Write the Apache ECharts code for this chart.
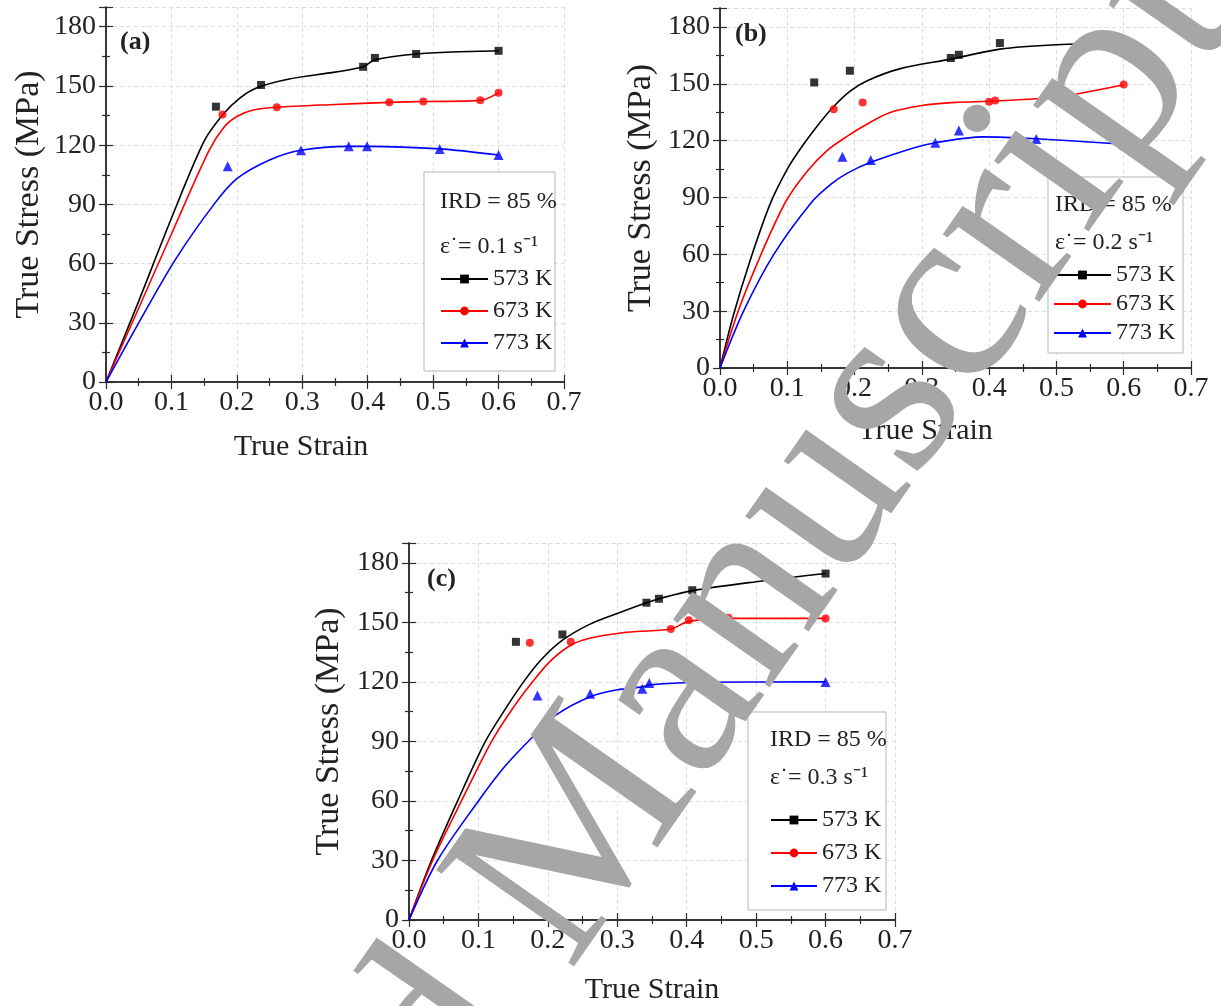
<!DOCTYPE html>
<html>
<head>
<meta charset="utf-8">
<title>True stress vs true strain</title>
<script src="https://cdn.jsdelivr.net/npm/echarts@6/dist/echarts.min.js"></script>
<style>
    html, body { margin: 0; padding: 0; background: #fff; }
    #chart { width: 1221px; height: 1006px; }
</style>
</head>
<body>
<div id="chart"></div>
<script>
// axes
var strainTicks = [0, 0.1, 0.2, 0.3, 0.4, 0.5, 0.6, 0.7];
var stressTicks = [0, 30, 60, 90, 120, 150, 180];
var stressTop = 190;
var temps = ['573 K', '673 K', '773 K'];
var rates = ['0.1', '0.2', '0.3'];
var tags = ['(a)', '(b)', '(c)'];

// (a) 0.1 s-1 : measured points
var a573Pts = [[0.168, 139.5], [0.237, 150.5], [0.393, 159.7], [0.411, 164.2], [0.474, 166.2], [0.6, 167.8]];
var a673Pts = [[0.178, 135.5], [0.261, 139.2], [0.433, 141.7], [0.485, 142.1], [0.572, 142.7], [0.6, 146.5]];
var a773Pts = [[0.186, 109.3], [0.298, 117.4], [0.371, 119.4], [0.399, 119.4], [0.510, 118.1], [0.6, 115.0]];
// (a) curves
var a573Fit = [[0, 0], [0.05, 41], [0.1, 83], [0.15, 122], [0.18, 136], [0.205, 144], [0.23, 149], [0.28, 153.5], [0.35, 157], [0.393, 159.7], [0.411, 163.2], [0.474, 166.2], [0.54, 167.3], [0.6, 167.8]];
var a673Fit = [[0, 0], [0.05, 37.5], [0.1, 75], [0.157, 117], [0.18, 129], [0.2, 134.5], [0.225, 137.8], [0.261, 139.2], [0.35, 140.6], [0.433, 141.7], [0.485, 142.1], [0.572, 142.7], [0.6, 146.5]];
var a773Fit = [[0, 0], [0.05, 30], [0.106, 62], [0.165, 90], [0.2, 103], [0.25, 112.5], [0.298, 117.4], [0.371, 119.4], [0.399, 119.4], [0.51, 118.1], [0.6, 115]];

// (b) 0.2 s-1
var b573Pts = [[0.140, 150.7], [0.193, 156.9], [0.343, 163.6], [0.355, 165.3], [0.416, 171.5], [0.6, 171.5]];
var b673Pts = [[0.169, 136.6], [0.212, 140.1], [0.400, 140.5], [0.409, 141.2], [0.511, 143.0], [0.6, 149.6]];
var b773Pts = [[0.182, 111.5], [0.224, 109.8], [0.320, 118.9], [0.355, 125.3], [0.470, 120.9], [0.6, 118.1]];
var b573Fit = [[0, 0], [0.02, 28], [0.045, 57], [0.075, 87], [0.1, 105], [0.12, 116], [0.144, 127.5], [0.169, 138], [0.193, 146], [0.218, 151.5], [0.268, 158], [0.343, 163], [0.416, 168.3], [0.5, 170.6], [0.6, 171.5]];
var b673Fit = [[0, 0], [0.027, 30], [0.061, 60], [0.098, 88], [0.13, 104], [0.16, 115], [0.19, 122.5], [0.215, 128], [0.25, 134.5], [0.3, 138.5], [0.35, 140.2], [0.4, 140.8], [0.5, 143], [0.6, 149.5]];
var b773Fit = [[0, 0], [0.035, 30], [0.08, 60], [0.135, 87], [0.165, 97], [0.19, 103], [0.226, 108.8], [0.29, 116.4], [0.32, 118.9], [0.39, 122], [0.47, 121], [0.6, 118.1]];

// (c) 0.3 s-1
var c573Pts = [[0.154, 140.2], [0.221, 143.9], [0.342, 159.9], [0.360, 161.9], [0.408, 166.2], [0.6, 174.6]];
var c673Pts = [[0.174, 139.7], [0.233, 140.2], [0.377, 146.7], [0.403, 151.1], [0.460, 152.3], [0.6, 151.9]];
var c773Pts = [[0.185, 113.1], [0.261, 114.0], [0.336, 116.6], [0.346, 119.5], [0.421, 119.8], [0.6, 120.0]];
var c573Fit = [[0, 0], [0.03, 28], [0.07, 60], [0.11, 90], [0.14, 107], [0.165, 120], [0.19, 131], [0.221, 141], [0.26, 149], [0.3, 154.5], [0.342, 159.9], [0.36, 161.9], [0.408, 166], [0.5, 170.5], [0.6, 174.6]];
var c673Fit = [[0, 0], [0.034, 30], [0.077, 61], [0.119, 90], [0.15, 107], [0.18, 121], [0.205, 131], [0.233, 138.5], [0.26, 142], [0.308, 144.8], [0.377, 146.7], [0.403, 150.5], [0.46, 152], [0.6, 152]];
var c773Fit = [[0, 0], [0.041, 30], [0.1, 60], [0.137, 77], [0.183, 94], [0.2125, 103.5], [0.261, 112.5], [0.3, 116], [0.336, 117.5], [0.346, 118.5], [0.421, 119.8], [0.6, 120]];

var fits = [[a573Fit, a673Fit, a773Fit], [b573Fit, b673Fit, b773Fit], [c573Fit, c673Fit, c773Fit]];
var pts = [[a573Pts, a673Pts, a773Pts], [b573Pts, b673Pts, b773Pts], [c573Pts, c673Pts, c773Pts]];

var colors = ['#000000', '#ff0000', '#0000ff'];
var symbols = ['rect', 'circle', 'triangle'];
var symbolSizes = [8, 8, 10];
var serif = "'Liberation Serif', 'Times New Roman', serif";
var ink = '#222';

// where each panel sits on the page (px)
var panels = [
    { left: 106, top: 7, width: 458, height: 375, yGap: 60, xGap: 50, xShift: 34,
      legend: { left: 440, top: 267, itemWidth: 47, itemGap: 8 },
      box: [424, 172, 131, 199], textX: 440, irdY: 202, rateY: 247, tag: [120, 42] },
    { left: 720, top: 8, width: 471, height: 360, yGap: 62, xGap: 48, xShift: 30,
      legend: { left: 1053, top: 263, itemWidth: 57, itemGap: 5 },
      box: [1048, 177, 135, 176], textX: 1055, irdY: 205, rateY: 243, tag: [735, 34] },
    { left: 409, top: 543, width: 486, height: 377, yGap: 63, xGap: 55, xShift: 0,
      legend: { left: 770, top: 808, itemWidth: 46, itemGap: 9 },
      box: [748, 712, 138, 198], textX: 770, irdY: 740, rateY: 778, tag: [427, 579] }
];

var chart = echarts.init(document.getElementById('chart'));

var grids = [], xAxes = [], yAxes = [], series = [], legends = [], graphics = [];
var axisLine = { show: true, lineStyle: { color: '#2b2b2b', width: 1.5 } };

panels.forEach(function (p, i) {
    grids.push({ left: p.left, top: p.top, width: p.width, height: p.height });

    var xBase = {
        type: 'value', gridIndex: i,
        min: strainTicks[0], max: strainTicks[strainTicks.length - 1],
        interval: strainTicks[1] - strainTicks[0],
        axisLine: axisLine,
        axisTick: { show: true, inside: true, length: 7, lineStyle: { color: '#2b2b2b', width: 1.2 } },
        minorTick: { show: true, splitNumber: 2, length: 4, lineStyle: { color: '#2b2b2b', width: 1.2 } }
    };
    var yBase = {
        type: 'value', gridIndex: i,
        min: stressTicks[0], max: stressTop,
        interval: stressTicks[1] - stressTicks[0],
        axisLine: axisLine,
        axisTick: { show: true, inside: true, length: 7, lineStyle: { color: '#2b2b2b', width: 1.2 } },
        minorTick: { show: true, splitNumber: 2, length: 4, lineStyle: { color: '#2b2b2b', width: 1.2 } }
    };

    xAxes.push(Object.assign({}, xBase, {
        position: 'bottom',
        name: 'True Strain', nameLocation: 'middle', nameGap: p.xGap,
        nameTextStyle: { fontFamily: serif, fontSize: 30, color: ink, padding: [0, p.xShift * 2, 0, 0] },
        axisLabel: { margin: 7, fontFamily: serif, fontSize: 28, color: ink,
            formatter: function (v) { return v.toFixed(1); } },
        splitLine: { show: true, lineStyle: { color: '#dedede', type: [4, 3], width: 1 } }
    }));
    xAxes.push(Object.assign({}, xBase, {
        position: 'top', axisLabel: { show: false }, splitLine: { show: false }
    }));
    yAxes.push(Object.assign({}, yBase, {
        position: 'left',
        name: 'True Stress (MPa)', nameLocation: 'middle', nameGap: p.yGap, nameRotate: 90,
        nameTextStyle: { fontFamily: serif, fontSize: 34, color: ink },
        axisLabel: { margin: 10, fontFamily: serif, fontSize: 28, color: ink, showMaxLabel: false },
        splitLine: { show: true, lineStyle: { color: '#dedede', type: [4, 3], width: 1 } }
    }));
    yAxes.push(Object.assign({}, yBase, {
        position: 'right', axisLabel: { show: false }, splitLine: { show: false }
    }));

    for (var t = 0; t < 3; t++) {
        series.push({
            name: temps[t], type: 'line', xAxisIndex: i * 2, yAxisIndex: i * 2,
            data: fits[i][t], smooth: 0.3,
            showSymbol: false, symbol: symbols[t], symbolSize: symbolSizes[t],
            lineStyle: { color: colors[t], width: 1.6 },
            itemStyle: { color: colors[t] },
            silent: true, z: 2
        });
        series.push({
            name: temps[t], type: 'scatter', xAxisIndex: i * 2, yAxisIndex: i * 2,
            data: pts[i][t], symbol: symbols[t], symbolSize: symbolSizes[t],
            itemStyle: { color: colors[t] }, z: 3
        });
    }

    legends.push({
        data: temps, orient: 'vertical', left: p.legend.left, top: p.legend.top,
        padding: 0, itemWidth: p.legend.itemWidth, itemHeight: 11, itemGap: p.legend.itemGap,
        selectedMode: false,
        textStyle: { fontFamily: serif, fontSize: 24, color: ink }
    });

    graphics.push({
        type: 'rect', z: 1,
        shape: { x: p.box[0], y: p.box[1], width: p.box[2], height: p.box[3] },
        style: { fill: '#fff', stroke: '#b5b5b5', lineWidth: 1 }
    });
    graphics.push({
        type: 'text', z: 5, x: p.textX, y: p.irdY,
        style: { text: 'IRD = 85 %', font: '24px ' + serif, fill: ink,
            align: 'left', verticalAlign: 'middle', textAlign: 'left', textVerticalAlign: 'middle' }
    });
    graphics.push({
        type: 'text', z: 5, x: p.textX, y: p.rateY,
        style: { text: 'ε˙= ' + rates[i] + ' s⁻¹', font: '24px ' + serif, fill: ink,
            align: 'left', verticalAlign: 'middle', textAlign: 'left', textVerticalAlign: 'middle' }
    });
    graphics.push({
        type: 'text', z: 5, x: p.tag[0], y: p.tag[1],
        style: { text: tags[i], font: 'bold 26px ' + serif, fill: ink,
            align: 'left', verticalAlign: 'middle', textAlign: 'left', textVerticalAlign: 'middle' }
    });
});

// grey "Accepted Manuscript" stamp across the page
// (baseline start of "Manuscript" and the slope of the baseline)
var wmAngle = 55 * Math.PI / 180;
var wmSize = 257;
var wmX = 586 - 0.34 * wmSize * Math.sin(wmAngle);
var wmY = 984 - 0.34 * wmSize * Math.cos(wmAngle);
graphics.push({
    type: 'text', z: 50, x: wmX, y: wmY, rotation: wmAngle, silent: true,
    style: { text: 'Manuscript', font: wmSize + 'px ' + serif, fill: '#a6a6a6',
        align: 'left', verticalAlign: 'middle', textAlign: 'left', textVerticalAlign: 'middle' }
});
graphics.push({
    type: 'text', z: 50, x: wmX, y: wmY, rotation: wmAngle, silent: true,
    style: { text: 'Accepted ', font: wmSize + 'px ' + serif, fill: '#a6a6a6',
        align: 'right', verticalAlign: 'middle', textAlign: 'right', textVerticalAlign: 'middle' }
});

chart.setOption({
    animation: false,
    backgroundColor: '#fff',
    grid: grids,
    xAxis: xAxes,
    yAxis: yAxes,
    legend: legends,
    graphic: { elements: graphics },
    series: series
});
</script>
</body>
</html>
